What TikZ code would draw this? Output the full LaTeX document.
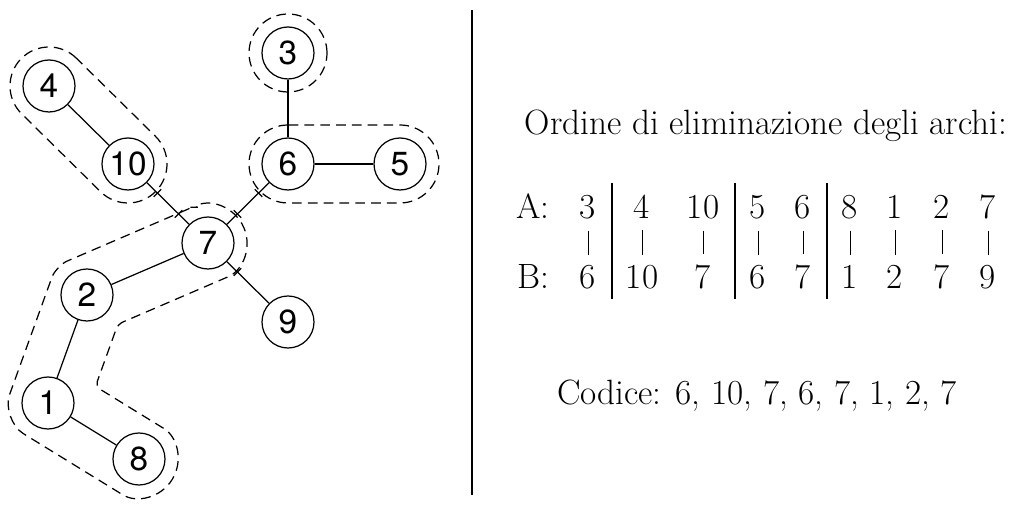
\documentclass[tikz,border=0pt]{standalone}
\usepackage{fontspec}
\newfontfamily\helv{TeX Gyre Heros}
\usetikzlibrary{calc}

\tikzset{
  vertex/.style={circle, draw, line width=0.7pt, minimum size=1.04cm, inner sep=0pt,
    font=\helv\fontsize{19}{22}\selectfont},
  edge/.style={line width=0.7pt},
  group/.style={line width=0.7pt, dash pattern=on 5.5pt off 3.5pt},
  cutmark/.style={pos=#1, sloped, draw, line width=0.7pt, rectangle, minimum width=0pt,
    minimum height=6pt, inner sep=0pt},
  entry/.style={inner sep=0pt, anchor=base, font=\fontsize{20}{24}\selectfont},
  link/.style={line width=0.5pt, shorten <=6.5pt, shorten >=5.8pt},
  sepline/.style={line width=1.3pt}
}

\begin{document}
\begin{tikzpicture}
  \useasboundingbox (0,0) rectangle (20.36,10.14);

  % Albero
  \node[vertex] (n3)  at (5.76,9.08) {3};
  \node[vertex] (n4)  at (0.98,8.42) {4};
  \node[vertex] (n10) at (2.56,6.86) {10};
  \node[vertex] (n6)  at (5.76,6.86) {6};
  \node[vertex] (n5)  at (8.00,6.86) {5};
  \node[vertex] (n7)  at (4.16,5.28) {7};
  \node[vertex] (n2)  at (1.74,4.24) {2};
  \node[vertex] (n9)  at (5.76,3.70) {9};
  \node[vertex] (n1)  at (0.96,2.08) {1};
  \node[vertex] (n8)  at (2.78,0.96) {8};

  % Archi
  \draw[edge] (n4) -- (n10);
  \draw[edge] (n3) -- (n6);
  \draw[edge] (n6) -- (n5);
  \draw[edge] (n7) -- (n2);
  \draw[edge] (n2) -- (n1);
  \draw[edge] (n1) -- (n8);
  \draw[edge] (n10) -- (n7) node[cutmark=0.25]{} node[cutmark=0.75]{};
  \draw[edge] (n6) -- (n7) node[cutmark=0.25]{} node[cutmark=0.75]{};
  \draw[edge] (n7) -- (n9) node[cutmark=0.25]{};

  % Gruppi eliminati
  \draw[group] (n3) circle[radius=0.78];
  \draw[group] ($(n4)+(45.4:0.78)$) arc[start angle=45.4, end angle=225.4, radius=0.78]
    -- ($(n10)+(225.4:0.78)$) arc[start angle=225.4, end angle=405.4, radius=0.78] -- cycle;
  \draw[group] ($(n6)+(90:0.78)$) arc[start angle=90, end angle=270, radius=0.78]
    -- ($(n5)+(270:0.78)$) arc[start angle=270, end angle=450, radius=0.78] -- cycle;
  \draw[group, rounded corners=3pt] ($(n7)+(113.3:0.78)$) -- ($(n2)+(113.3:0.78)$)
    arc[start angle=113.3, end angle=160.1, radius=0.78]
    -- ($(n1)+(160.1:0.78)$) arc[start angle=160.1, end angle=238.4, radius=0.78]
    -- ($(n8)+(238.4:0.78)$) arc[start angle=238.4, end angle=418.4, radius=0.78]
    -- ($(n1)+(19.25:1.006)$) -- ($(n2)+(316.7:0.85)$)
    -- ($(n7)+(293.3:0.78)$) arc[start angle=293.3, end angle=473.3, radius=0.78] -- cycle;

  % Separatore
  \draw[line width=1.2pt] (9.44,9.94) -- (9.44,0.24);

  % Tabella
  \node[entry] (title) at (15.32,7.44) {Ordine di eliminazione degli archi:};
  \node[entry] (labA) at (10.66,5.77) {A:};
  \node[entry] (labB) at (10.66,4.37) {B:};
  \foreach \x/\a/\b [count=\i] in {11.76/3/6, 12.84/4/10, 14.06/10/7, 15.16/5/6,
      16.06/6/7, 17.00/8/1, 17.90/1/2, 18.84/2/7, 19.76/7/9} {
    \node[entry] (a\i) at (\x,5.77) {\a};
    \node[entry] (b\i) at (\x,4.37) {\b};
    \draw[link] (a\i.south) -- (b\i.north);
  }
  \foreach \x in {12.24,14.70,16.54}
    \draw[sepline] (\x,6.48) -- (\x,4.16);

  \node[entry] (code) at (15.14,2.04) {Codice: 6, 10, 7, 6, 7, 1, 2, 7};
\end{tikzpicture}
\end{document}
